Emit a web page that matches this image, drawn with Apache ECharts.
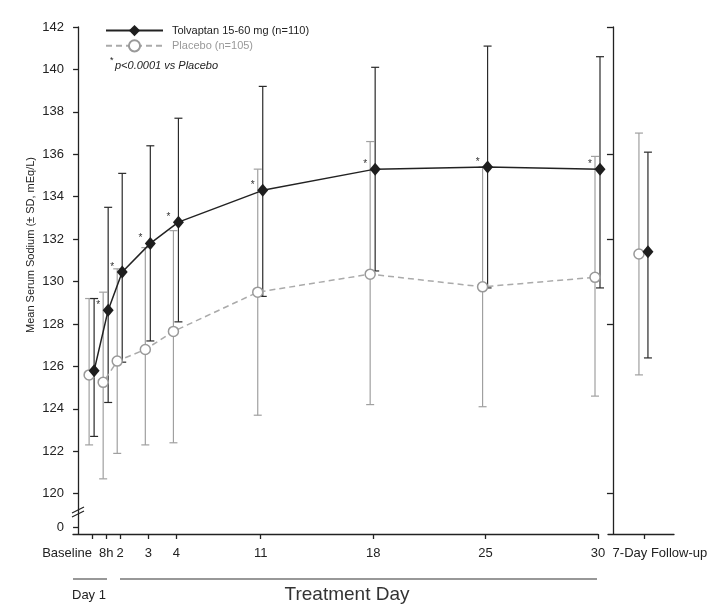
<!DOCTYPE html>
<html>
<head>
<meta charset="utf-8">
<script src="https://cdn.jsdelivr.net/npm/echarts@6/dist/echarts.min.js"></script>
<style>
html, body { margin: 0; padding: 0; background: #fff; }
#chart { width: 717px; height: 616px; }
</style>
</head>
<body>
<div id="chart"></div>
<script>
// 时间点（x 轴位置按原图的不等间距）
var dayLabels = ['Baseline', '8h', '2', '3', '4', '11', '18', '25', '30'];
var dayPos = [1, 2, 3, 5, 7, 13, 21, 29, 37];

// Tolvaptan 均值 ± SD
var tolMean = [125.8, 128.65, 130.45, 131.8, 132.8, 134.3, 135.3, 135.4, 135.3];
var tolUpper = [129.2, 133.5, 135.1, 136.4, 137.7, 139.2, 140.1, 141.1, 140.6];
var tolLower = [122.7, 124.3, 126.2, 127.2, 128.1, 129.3, 130.5, 129.7, 129.7];
var tolSig = [false, true, true, true, true, true, true, true, true];

// Placebo 均值 ± SD
var plcMean = [125.6, 125.25, 126.25, 126.8, 127.65, 129.5, 130.35, 129.75, 130.2];
var plcUpper = [129.2, 129.5, 130.6, 131.6, 132.4, 135.3, 136.6, 135.4, 135.9];
var plcLower = [122.3, 120.7, 121.9, 122.3, 122.4, 123.7, 124.2, 124.1, 124.6];

// 7-Day Follow-up
var fuLabel = '7-Day Follow-up';
var fuPos = 1;
var tolFU = [131.4, 126.4, 136.1];   // mean, lower, upper
var plcFU = [131.3, 125.6, 137.0];

// y 轴刻度
var yTicks = [120, 122, 124, 126, 128, 130, 132, 134, 136, 138, 140, 142];
var yBreakTick = 118.4;   // 断轴后的 "0"
var fuTicks = [120, 128, 132, 136, 142];

var TOL_NAME = 'Tolvaptan 15-60 mg (n=110)';
var PLC_NAME = 'Placebo (n=105)';

var mainGrid = { left: 73, top: 27, width: 525, height: 507 };
var fuGrid = { left: 608, top: 27, width: 66, height: 507 };
var mainX = { min: -0.36, max: 37 };
var fuX = { min: -0.16, max: 1.97 };

// 像素偏移换算成轴单位
function shift(px, grid, ax) {
    return px * (ax.max - ax.min) / grid.width;
}
var tolDx = shift(2, mainGrid, mainX), plcDx = shift(-3, mainGrid, mainX);
var tolFuDx = shift(4, fuGrid, fuX), plcFuDx = shift(-5, fuGrid, fuX);

function pairs(xs, ys, dx) {
    var arr = [];
    for (var i = 0; i < xs.length; i++) {
        arr.push([xs[i] + dx, ys[i]]);
    }
    return arr;
}
function bars(xs, lo, hi, dx) {
    var arr = [];
    for (var i = 0; i < xs.length; i++) {
        arr.push([xs[i] + dx, lo[i], hi[i]]);
    }
    return arr;
}

function errorBar(color) {
    return function (params, api) {
        var x = api.value(0);
        var lo = api.coord([x, api.value(1)]);
        var hi = api.coord([x, api.value(2)]);
        var w = 4;
        var st = { stroke: color, lineWidth: 1.2, fill: null };
        return {
            type: 'group',
            children: [
                { type: 'line', shape: { x1: hi[0], y1: hi[1], x2: lo[0], y2: lo[1] }, style: st },
                { type: 'line', shape: { x1: hi[0] - w, y1: hi[1], x2: hi[0] + w, y2: hi[1] }, style: st },
                { type: 'line', shape: { x1: lo[0] - w, y1: lo[1], x2: lo[0] + w, y2: lo[1] }, style: st }
            ]
        };
    };
}

var tolColor = '#1e1e1e', plcColor = '#a0a0a0';
var font = 'Liberation Sans';

var tolLine = {
    symbol: 'diamond', symbolSize: [11, 13], clip: false,
    itemStyle: { color: tolColor },
    lineStyle: { color: '#222', width: 1.5 }
};
var plcLine = {
    symbol: 'circle', symbolSize: 10, clip: false,
    itemStyle: { color: '#fff', borderColor: '#999', borderWidth: 1.5 },
    lineStyle: { color: '#aaa', width: 1.5, type: [6, 4] }
};

var chart = echarts.init(document.getElementById('chart'), null, { renderer: 'canvas' });

var option = {
    backgroundColor: '#fff',
    animation: false,
    textStyle: { fontFamily: font },
    legend: {
        orient: 'vertical',
        left: 100, top: 20,
        itemWidth: 57, itemHeight: 14, itemGap: 3,
        data: [
            { name: TOL_NAME, textStyle: { color: '#222' } },
            { name: PLC_NAME, textStyle: { color: '#999' } }
        ],
        textStyle: { fontSize: 11, fontFamily: font, padding: [0, 0, 0, 4] },
        selectedMode: false
    },
    grid: [
        { left: mainGrid.left, top: mainGrid.top, width: mainGrid.width, height: mainGrid.height },
        { left: fuGrid.left, top: fuGrid.top, width: fuGrid.width, height: fuGrid.height }
    ],
    xAxis: [{
        gridIndex: 0, type: 'value', min: mainX.min, max: mainX.max,
        splitLine: { show: false },
        axisLine: { lineStyle: { color: '#222', width: 1.3 } },
        axisTick: { customValues: dayPos, length: 5, lineStyle: { color: '#222', width: 1.3 } },
        axisLabel: {
            customValues: dayPos, margin: 13, fontSize: 13, color: '#222',
            formatter: function (v) {
                var i = dayPos.indexOf(v);
                if (i === 0) return '{r|' + dayLabels[i] + '}';
                return dayLabels[i];
            },
            rich: { r: { fontSize: 13, color: '#222', padding: [0, 50, 0, 0] } }
        }
    }, {
        gridIndex: 1, type: 'value', min: fuX.min, max: fuX.max,
        splitLine: { show: false },
        axisLine: { lineStyle: { color: '#222', width: 1.3 } },
        axisTick: { customValues: [fuPos], length: 5, lineStyle: { color: '#222', width: 1.3 } },
        axisLabel: {
            customValues: [fuPos], margin: 13, fontSize: 13, color: '#222',
            formatter: function () { return '{r|' + fuLabel + '}'; },
            rich: { r: { fontSize: 13, color: '#222', padding: [0, 0, 0, 32] } }
        }
    }],
    yAxis: [{
        gridIndex: 0, type: 'value', min: 118.1, max: 142,
        splitLine: { show: false },
        axisLine: { onZero: true, lineStyle: { color: '#222', width: 1.3 } },
        axisTick: { customValues: [yBreakTick].concat(yTicks), length: 5, lineStyle: { color: '#222', width: 1.3 } },
        axisLabel: {
            customValues: [yBreakTick].concat(yTicks), fontSize: 13, color: '#222', margin: 9,
            formatter: function (v) { return v === yBreakTick ? '0' : String(Math.round(v)); }
        }
    }, {
        gridIndex: 1, type: 'value', min: 118.1, max: 142,
        splitLine: { show: false },
        axisLine: { onZero: true, lineStyle: { color: '#222', width: 1.3 } },
        axisTick: { customValues: fuTicks, length: 6, lineStyle: { color: '#222', width: 1.3 } },
        axisLabel: { show: false }
    }],
    series: [
        {
            type: 'custom', name: 'plcErr', xAxisIndex: 0, yAxisIndex: 0, z: 2, silent: true, clip: false,
            renderItem: errorBar(plcColor), encode: { x: 0, y: [1, 2] },
            data: bars(dayPos, plcLower, plcUpper, plcDx)
        },
        {
            type: 'custom', name: 'tolErr', xAxisIndex: 0, yAxisIndex: 0, z: 3, silent: true, clip: false,
            renderItem: errorBar('#2a2a2a'), encode: { x: 0, y: [1, 2] },
            data: bars(dayPos, tolLower, tolUpper, tolDx)
        },
        {
            type: 'custom', name: 'plcErrFU', xAxisIndex: 1, yAxisIndex: 1, z: 2, silent: true, clip: false,
            renderItem: errorBar(plcColor), encode: { x: 0, y: [1, 2] },
            data: [[fuPos + plcFuDx, plcFU[1], plcFU[2]]]
        },
        {
            type: 'custom', name: 'tolErrFU', xAxisIndex: 1, yAxisIndex: 1, z: 3, silent: true, clip: false,
            renderItem: errorBar('#2a2a2a'), encode: { x: 0, y: [1, 2] },
            data: [[fuPos + tolFuDx, tolFU[1], tolFU[2]]]
        },
        Object.assign({
            type: 'line', name: PLC_NAME, xAxisIndex: 0, yAxisIndex: 0, z: 4, silent: true,
            data: pairs(dayPos, plcMean, plcDx)
        }, plcLine),
        Object.assign({
            type: 'line', name: TOL_NAME, xAxisIndex: 0, yAxisIndex: 0, z: 5, silent: true,
            data: pairs(dayPos, tolMean, tolDx),
            label: {
                show: true, position: 'inside', offset: [-10, -5],
                fontSize: 10, color: '#333',
                formatter: function (p) { return tolSig[p.dataIndex] ? '*' : ''; }
            }
        }, tolLine),
        Object.assign({
            type: 'line', name: PLC_NAME, xAxisIndex: 1, yAxisIndex: 1, z: 4, silent: true,
            data: [[fuPos + plcFuDx, plcFU[0]]]
        }, plcLine),
        Object.assign({
            type: 'line', name: TOL_NAME, xAxisIndex: 1, yAxisIndex: 1, z: 5, silent: true,
            data: [[fuPos + tolFuDx, tolFU[0]]]
        }, tolLine)
    ],
    graphic: [
        // y 轴标题
        {
            type: 'text', x: 31, y: 245, rotation: Math.PI / 2,
            style: { text: 'Mean Serum Sodium (\u00b1 SD, mEq/L)', font: '11px ' + font, fill: '#222', textAlign: 'center', textVerticalAlign: 'middle' }
        },
        // 显著性说明
        {
            type: 'text', x: 110, y: 61,
            style: { text: '*', font: '9px ' + font, fill: '#222', textAlign: 'left', textVerticalAlign: 'middle' }
        },
        {
            type: 'text', x: 115, y: 66,
            style: { text: 'p<0.0001 vs Placebo', font: 'italic 11px ' + font, fill: '#222', textAlign: 'left', textVerticalAlign: 'middle' }
        },
        // 断轴符号
        { type: 'line', shape: { x1: 72, y1: 513, x2: 84, y2: 507 }, style: { stroke: '#222', lineWidth: 1.2 }, z: 10 },
        { type: 'line', shape: { x1: 72, y1: 517, x2: 84, y2: 511 }, style: { stroke: '#222', lineWidth: 1.2 }, z: 10 },
        // Day 1 / Treatment Day
        { type: 'line', shape: { x1: 73, y1: 579, x2: 107, y2: 579 }, style: { stroke: '#333', lineWidth: 1.2 } },
        {
            type: 'text', x: 72, y: 595,
            style: { text: 'Day 1', font: '13px ' + font, fill: '#222', textAlign: 'left', textVerticalAlign: 'middle' }
        },
        { type: 'line', shape: { x1: 120, y1: 579, x2: 597, y2: 579 }, style: { stroke: '#333', lineWidth: 1.2 } },
        {
            type: 'text', x: 347, y: 595,
            style: { text: 'Treatment Day', font: '19px ' + font, fill: '#333', textAlign: 'center', textVerticalAlign: 'middle' }
        }
    ]
};

chart.setOption(option);
</script>
</body>
</html>
